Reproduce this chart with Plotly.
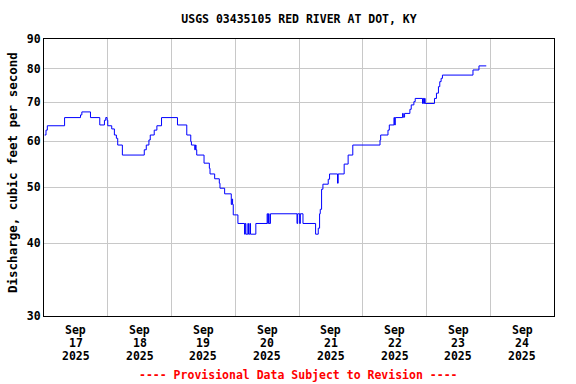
import plotly.graph_objects as go

times = [
    "2025-09-17 00:15", "2025-09-17 00:45", "2025-09-17 01:15", "2025-09-17 07:45",
    "2025-09-17 13:45", "2025-09-17 14:15", "2025-09-17 17:30", "2025-09-17 21:00",
    "2025-09-17 22:45", "2025-09-17 23:15", "2025-09-17 23:45", "2025-09-18 00:00",
    "2025-09-18 01:30", "2025-09-18 02:30", "2025-09-18 03:15", "2025-09-18 03:45",
    "2025-09-18 05:30", "2025-09-18 13:45", "2025-09-18 14:30", "2025-09-18 15:30",
    "2025-09-18 16:00", "2025-09-18 17:30", "2025-09-18 18:30", "2025-09-18 20:15",
    "2025-09-19 02:15", "2025-09-19 05:45", "2025-09-19 07:15", "2025-09-19 07:30",
    "2025-09-19 08:45", "2025-09-19 09:00", "2025-09-19 09:15", "2025-09-19 09:30",
    "2025-09-19 12:15", "2025-09-19 14:15", "2025-09-19 14:30", "2025-09-19 16:15",
    "2025-09-19 18:00", "2025-09-19 18:15", "2025-09-19 20:00", "2025-09-19 22:30",
    "2025-09-19 22:45", "2025-09-19 23:00", "2025-09-19 23:15", "2025-09-20 01:00",
    "2025-09-20 03:30", "2025-09-20 03:45", "2025-09-20 04:00", "2025-09-20 04:45",
    "2025-09-20 05:00", "2025-09-20 05:30", "2025-09-20 05:45", "2025-09-20 07:45",
    "2025-09-20 12:00", "2025-09-20 12:15", "2025-09-20 12:30", "2025-09-20 12:45",
    "2025-09-20 13:15", "2025-09-20 23:15", "2025-09-20 23:30", "2025-09-21 00:15",
    "2025-09-21 00:30", "2025-09-21 01:30", "2025-09-21 06:15", "2025-09-21 07:15",
    "2025-09-21 07:45", "2025-09-21 08:00", "2025-09-21 08:30", "2025-09-21 09:00",
    "2025-09-21 11:00", "2025-09-21 11:30", "2025-09-21 14:30", "2025-09-21 14:45",
    "2025-09-21 17:00", "2025-09-21 18:30", "2025-09-21 20:15", "2025-09-22 06:30",
    "2025-09-22 06:45", "2025-09-22 09:30", "2025-09-22 10:00", "2025-09-22 11:45",
    "2025-09-22 12:00", "2025-09-22 12:15", "2025-09-22 15:00", "2025-09-22 15:15",
    "2025-09-22 15:45", "2025-09-22 17:45", "2025-09-22 18:15", "2025-09-22 19:15",
    "2025-09-22 19:45", "2025-09-22 22:30", "2025-09-22 22:45", "2025-09-22 23:00",
    "2025-09-22 23:15", "2025-09-22 23:30", "2025-09-23 03:00", "2025-09-23 03:45",
    "2025-09-23 04:30", "2025-09-23 05:00", "2025-09-23 05:30", "2025-09-23 06:00",
    "2025-09-23 17:30", "2025-09-23 19:45", "2025-09-23 22:30",
]
discharge = [
    61.5, 62.7, 63.8, 65.9,
    66.6, 67.4, 65.9, 64.0,
    65.2, 65.9, 65.2, 63.8,
    63.0, 61.5, 60.7, 59.1,
    56.8, 58.0, 59.1, 60.3,
    61.5, 62.7, 63.8, 65.9,
    64.0, 61.5, 59.9, 59.1,
    58.0, 59.1, 58.0, 56.8,
    55.0, 53.9, 52.7, 51.7,
    50.8, 49.8, 48.7, 46.7,
    47.7, 46.7, 44.8, 43.3,
    41.5, 43.3, 41.5, 43.3,
    41.5, 43.3, 41.5, 43.3,
    45.0, 43.3, 45.0, 43.3,
    45.0, 43.3, 45.0, 43.3,
    45.0, 43.3, 41.5, 42.5,
    45.0, 45.8, 49.6, 50.6,
    51.6, 52.7, 50.8, 52.7,
    54.8, 56.8, 59.1, 60.3,
    61.5, 62.7, 64.0, 65.9,
    64.0, 65.9, 67.0, 66.0,
    67.0, 68.1, 69.3, 70.2,
    71.1, 69.7, 71.1, 69.7,
    71.1, 69.7, 71.1, 72.6,
    74.5, 76.0, 77.0, 78.0,
    79.6, 80.9, 80.9,
]

tick_month = ["Sep"] * 8
tick_day = ["17", "18", "19", "20", "21", "22", "23", "24"]
tick_year = ["2025"] * 8
day_noons = ["2025-09-%s 12:00" % d for d in tick_day]
day_midnights = ["2025-09-%02d 00:00" % d for d in range(18, 25)]
y_ticks = [30, 40, 50, 60, 70, 80, 90]

FONT = "DejaVu Sans Mono"
FS = 11.5
W, H = 576, 384
L, R, T, B = 44, 554, 39, 316
PW, PH = R - L, B - T

fig = go.Figure()
fig.add_trace(go.Scatter(
    x=times, y=discharge, mode="lines", line_shape="hv",
    line=dict(color="#0000ff", width=1), showlegend=False, hoverinfo="skip",
))

fig.update_layout(
    width=W, height=H,
    margin=dict(l=L, r=W - R, t=T, b=H - B, autoexpand=False),
    paper_bgcolor="white", plot_bgcolor="white",
    font=dict(family=FONT, size=FS, color="black"),
    title=dict(text="<b>USGS 03435105 RED RIVER AT DOT, KY</b>", x=0.5, xanchor="center",
               xref="paper", y=1 - 19 / H, yanchor="middle",
               font=dict(family=FONT, size=FS, color="black")),
)
fig.update_xaxes(
    type="date", automargin=False,
    range=["2025-09-17 00:00", "2025-09-25 00:00"],
    tickmode="array", tickvals=day_noons, ticktext=[""] * 8,
    showgrid=False, ticks="",
    minor=dict(tickmode="array", tickvals=day_midnights, showgrid=True, gridcolor="#c8c8c8", gridwidth=1, ticks=""),
    showline=True, linecolor="black", linewidth=1, mirror=True, zeroline=False,
)
fig.update_yaxes(
    type="log", automargin=False,
    range=[1.4771212547, 1.9542425094],
    tickmode="array", tickvals=y_ticks, ticktext=["<b>%d</b>" % v for v in y_ticks],
    showgrid=True, gridcolor="#c8c8c8", gridwidth=1, ticks="",
    tickfont=dict(family=FONT, size=FS, color="black"),
    showline=True, linecolor="black", linewidth=1, mirror=True, zeroline=False,
)

# y-axis title
fig.add_annotation(
    text="<b>Discharge, cubic feet per second</b>", textangle=-90,
    xref="paper", yref="paper", x=(12 - L) / PW, y=(B - 173) / PH,
    xanchor="center", yanchor="middle", showarrow=False, borderpad=0,
    font=dict(family=FONT, size=12.5, color="black"),
)

# x tick labels, one line each
for rows, ypix in ((tick_month, 330), (tick_day, 343), (tick_year, 356)):
    for xv, txt in zip(day_noons, rows):
        fig.add_annotation(
            text="<b>%s</b>" % txt, xref="x", yref="paper", x=xv, y=-(ypix - B) / PH,
            xanchor="center", yanchor="middle", showarrow=False,
            font=dict(family=FONT, size=FS, color="black"),
        )

fig.add_annotation(
    text="<b>---- Provisional Data Subject to Revision ----</b>",
    xref="paper", yref="paper", x=(298 - L) / PW, y=-(375 - B) / PH,
    xanchor="center", yanchor="middle", borderpad=0,
    showarrow=False, font=dict(family=FONT, size=FS, color="red"),
)

fig.write_html("out.html", config={"displayModeBar": False, "staticPlot": True},
               post_script="document.body.style.margin='0px';document.body.style.overflow='hidden';")
